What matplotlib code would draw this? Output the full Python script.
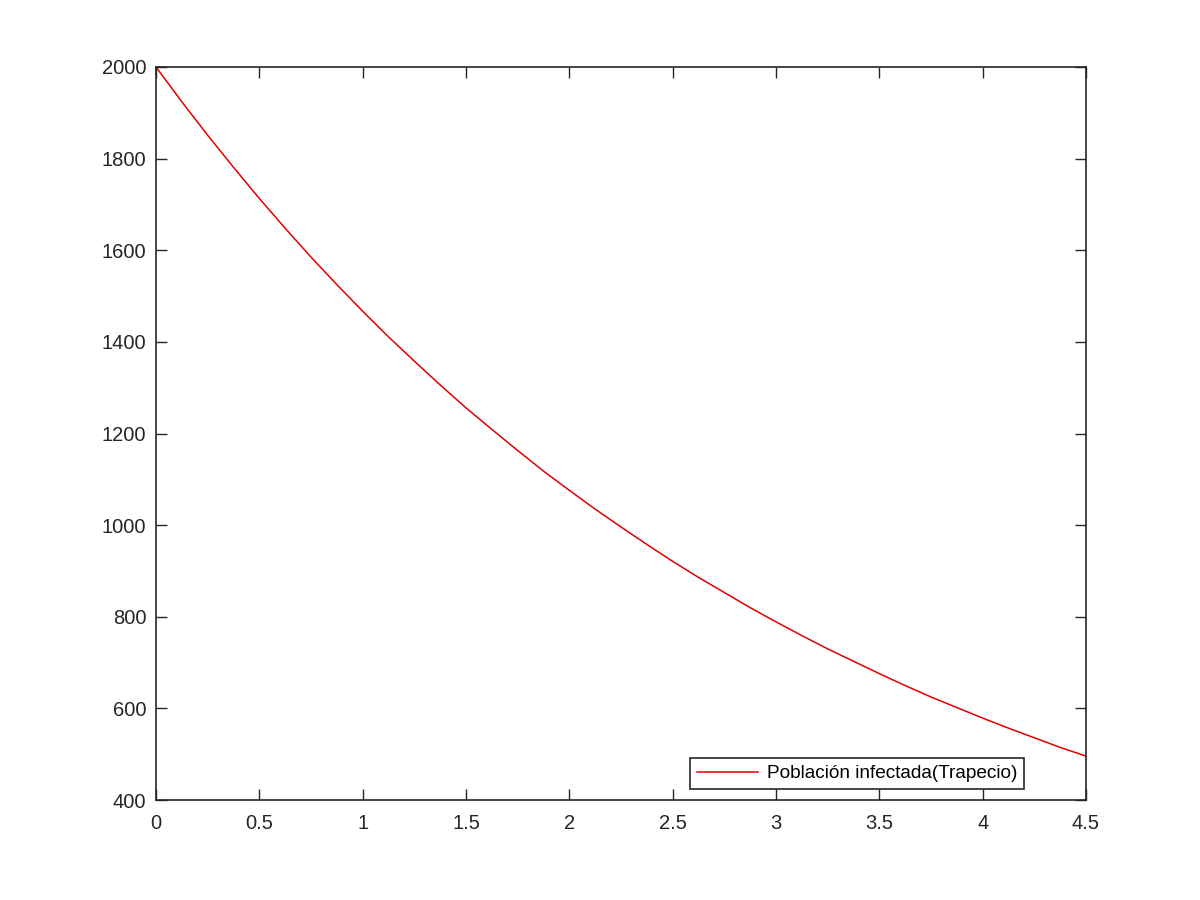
import matplotlib
matplotlib.use('Agg')
import matplotlib.pyplot as plt

# tiempo (dias) y poblacion infectada
t = [0, 0.125, 0.25, 0.375, 0.5, 0.625, 0.75, 0.875, 1.0, 1.125,
     1.25, 1.375, 1.5, 1.625, 1.75, 1.875, 2.0, 2.125, 2.25, 2.375,
     2.5, 2.625, 2.75, 2.875, 3.0, 3.125, 3.25, 3.375, 3.5, 3.625,
     3.75, 3.875, 4.0, 4.125, 4.25, 4.375, 4.5]
infectados = [2000, 1924, 1851, 1781, 1713, 1648, 1585, 1525, 1467, 1411,
              1358, 1306, 1256, 1209, 1163, 1118, 1076, 1035, 996, 958,
              921, 886, 853, 820, 789, 759, 730, 703, 676, 650,
              625, 602, 579, 557, 536, 515, 496]

xticks = [0, 0.5, 1, 1.5, 2, 2.5, 3, 3.5, 4, 4.5]
xticklabels = ['0', '0.5', '1', '1.5', '2', '2.5', '3', '3.5', '4', '4.5']
yticks = [400, 600, 800, 1000, 1200, 1400, 1600, 1800, 2000]

plt.rcParams['font.family'] = ['Liberation Sans', 'DejaVu Sans']

fig = plt.figure(figsize=(12, 9), dpi=100)
ax = fig.add_axes([0.13, 0.111, 0.775, 0.8146])

ax.plot(t, infectados, color='#e00000', linewidth=1.1,
        label='Población infectada(Trapecio)')

ax.set_xlim(0, 4.5)
ax.set_ylim(400, 2000)
ax.set_xticks(xticks)
ax.set_xticklabels(xticklabels)
ax.set_yticks(yticks)

# estilo tipo MATLAB: ticks hacia dentro en los cuatro lados
ax.tick_params(direction='in', top=True, right=True, length=8, width=1,
               labelsize=14.5, colors='#262626')
ax.tick_params(axis='x', pad=10)
ax.tick_params(axis='y', pad=7)
for s in ax.spines.values():
    s.set_linewidth(1.2)
    s.set_color('#262626')

leg = ax.legend(loc='lower right', bbox_to_anchor=(0.9335, 0.015),
                borderaxespad=0, fontsize=13.7, fancybox=False,
                framealpha=1, edgecolor='#262626', handlelength=3.2,
                borderpad=0.35, handletextpad=0.5)
leg.get_frame().set_linewidth(1.2)

fig.savefig('out.png', dpi=100, facecolor='white')
